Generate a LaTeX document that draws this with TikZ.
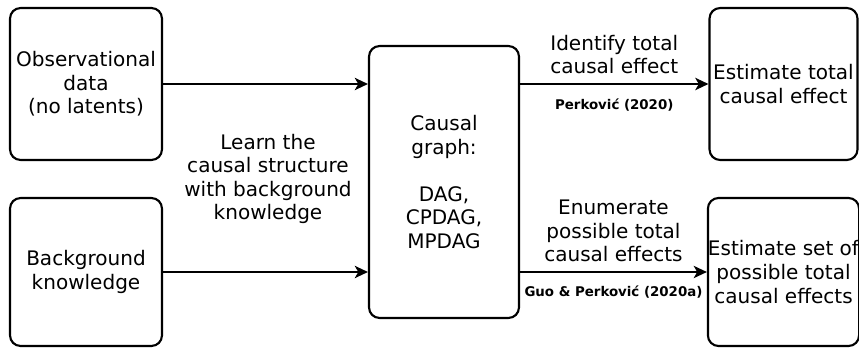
\documentclass[tikz,border=0pt]{standalone}
\usepackage{fontspec}
\setmainfont{DejaVu Sans}
\usepackage{tikz}
\usetikzlibrary{positioning,arrows.meta}

\begin{document}
\begin{tikzpicture}[x=0.02cm,y=-0.02cm,
    box/.style={draw,line width=1.2pt,rounded corners=6pt,align=center,inner sep=0pt},
    lbl/.style={align=center,inner sep=1pt},
    cite/.style={font=\fontsize{7.6}{9}\selectfont\bfseries,inner sep=1pt},
    flow/.style={-{Stealth[length=7.5pt,width=7pt,inset=2pt]},line width=1.2pt},
    every node/.style={font=\fontsize{11.4}{13.4}\selectfont}]
  \useasboundingbox (0,0) rectangle (859,348);
  \node[box,minimum width=3.04cm,minimum height=3.04cm](obs) at (86,84){Observational\\data\\(no latents)};
  \node[box,minimum width=3.04cm,minimum height=2.96cm](bk) at (86,272){Background\\knowledge};
  \node[box,minimum width=3.0cm,minimum height=5.44cm](graph) at (444,182){Causal\\graph:\\[13.4pt]DAG,\\CPDAG,\\MPDAG};
  \node[box,minimum width=2.96cm,minimum height=3.04cm](tot) at (783.5,84){Estimate total\\causal effect};
  \node[box,minimum width=2.96cm,minimum height=2.96cm](set) at (783.5,272){Estimate set of\\possible total\\causal effects};
  \node[lbl](learn) at (268,179){Learn the\\causal structure\\with background\\knowledge};

  \draw[flow] (obs.east) -- (obs.east -| graph.west);
  \draw[flow] (bk.east) -- (bk.east -| graph.west);
  \draw[flow] (graph.east |- tot.west) -- node[lbl,above=4pt]{Identify total\\causal effect}
    node[cite,below=7pt]{Perković (2020)} (tot.west);
  \draw[flow] (graph.east |- set.west) -- node[lbl,above=4pt]{Enumerate\\possible total\\causal effects}
    node[cite,below=6pt]{Guo \& Perković (2020a)} (set.west);
\end{tikzpicture}
\end{document}
